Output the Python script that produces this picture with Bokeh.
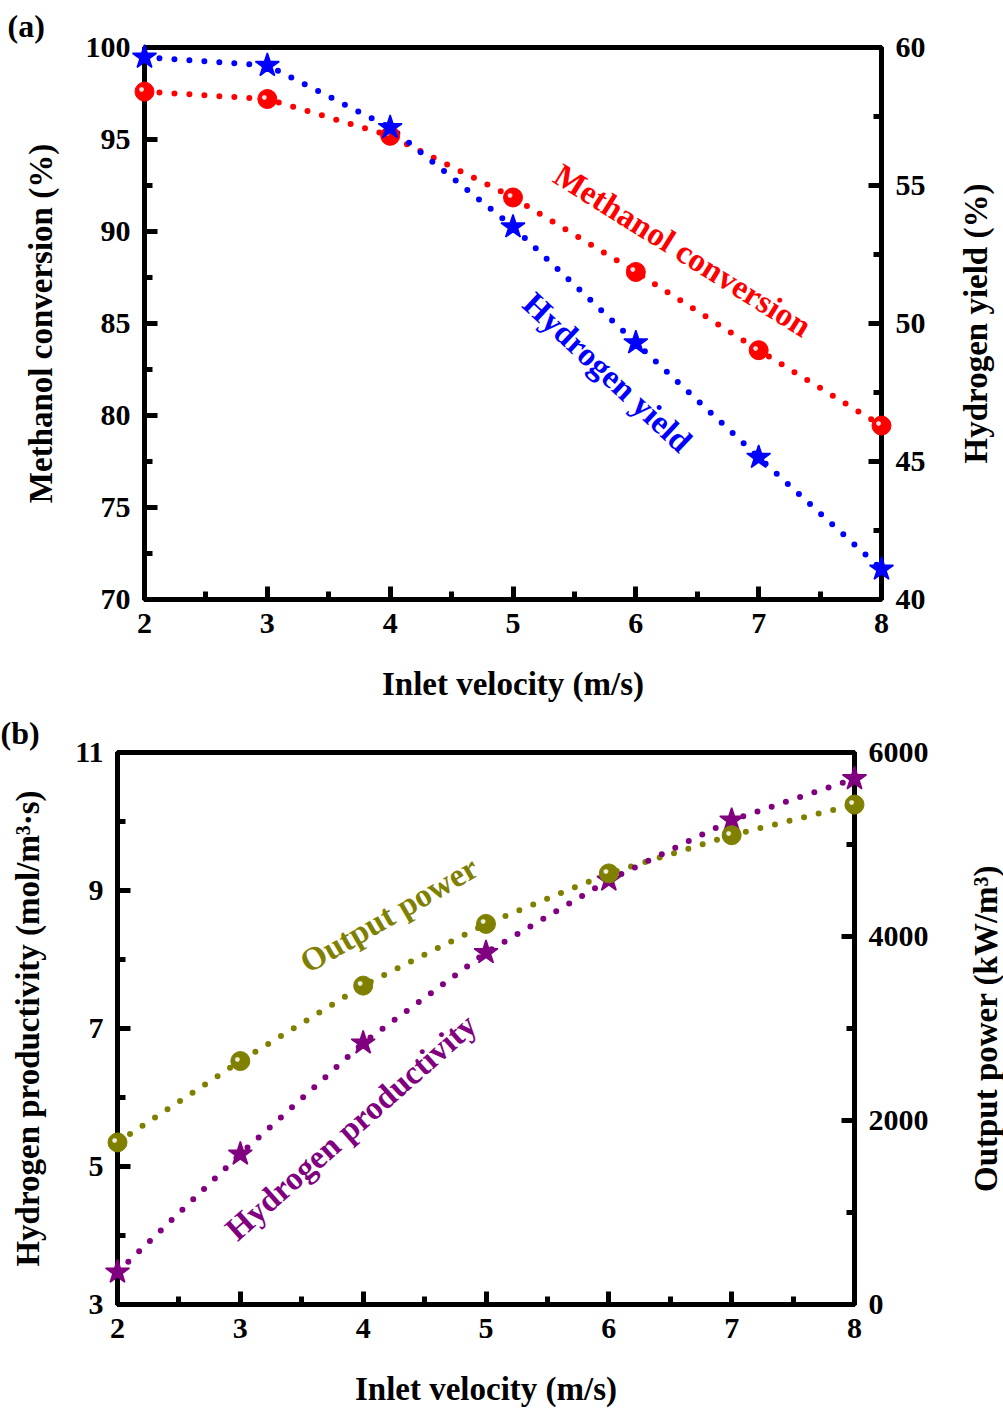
import math
from bokeh.plotting import figure
from bokeh.models import Range1d, LinearAxis, SingleIntervalTicker, FixedTicker
from bokeh.core.properties import value
from bokeh.embed import file_html
from bokeh.resources import INLINE

FONT = "Liberation Serif"

# ---- data ----
velocity = [2, 3, 4, 5, 6, 7, 8]
methanol_conversion = [97.6, 97.2, 95.2, 91.85, 87.8, 83.55, 79.45]
hydrogen_yield = [59.65, 59.35, 57.1, 53.5, 49.3, 45.15, 41.1]
hydrogen_productivity = [3.47, 5.18, 6.79, 8.10, 9.15, 10.02, 10.62]
output_power = [1762, 2646, 3466, 4137, 4686, 5101, 5434]

# tick values
productivity_ticks = [3, 5, 7, 9, 11]
productivity_minor_ticks = [4, 6, 8, 10]

RED = "#FF0000"
BLUE = "#0000FF"
OLIVE = "#808000"
PURPLE = "#800080"


def style_fig(p, label, offset, standoff):
    p.outline_line_color = "black"
    p.outline_line_width = 5
    p.outline_line_alpha = 1
    p.xgrid.visible = False
    p.ygrid.visible = False
    p.background_fill_color = "white"
    p.border_fill_color = "white"
    p.title.text = label
    p.title.align = "left"
    p.title.offset = offset
    p.title.standoff = standoff
    p.title.text_font = FONT
    p.title.text_font_style = "bold"
    p.title.text_font_size = "32px"
    p.title.text_color = "black"


def style_axis(ax, label_standoff):
    ax.axis_line_width = 5
    ax.axis_line_color = "black"
    ax.major_tick_in = 13
    ax.major_tick_out = 0
    ax.minor_tick_in = 8
    ax.minor_tick_out = 0
    ax.major_tick_line_width = 5
    ax.minor_tick_line_width = 5
    ax.major_tick_line_color = "black"
    ax.minor_tick_line_color = "black"
    ax.major_label_text_font = FONT
    ax.major_label_text_font_style = "bold"
    ax.major_label_text_font_size = "30px"
    ax.major_label_text_color = "black"
    ax.major_label_standoff = 14
    ax.axis_label_text_font = FONT
    ax.axis_label_text_font_style = "bold"
    ax.axis_label_text_font_size = "33px"
    ax.axis_label_text_color = "black"
    ax.axis_label_standoff = label_standoff


def right_label(p, x_end, y_range, text, offset_px, y_range_name):
    # axis title drawn beside the right axis, reading bottom-to-top
    r = p.text([x_end], [(y_range.start + y_range.end) / 2], text=[text],
               text_font=value(FONT), text_font_style="bold", text_font_size="33px",
               text_color="black", text_align="center", text_baseline="middle",
               angle=math.pi / 2, x_offset=offset_px, y_range_name=y_range_name)
    r.level = "overlay"


def sphere(p, xs, ys, color, y_range_name="default"):
    r = p.scatter(xs, ys, marker="circle", size=19, fill_color=color,
                  line_color=color, y_range_name=y_range_name)
    r.level = "overlay"
    h = p.text(xs, ys, text=["\u25CF"] * len(xs), text_font=value("DejaVu Sans"),
               text_font_size="6px", text_color="white", text_alpha=0.9,
               text_align="center", text_baseline="middle",
               x_offset=-3, y_offset=-3, y_range_name=y_range_name)
    h.level = "overlay"


def star(p, xs, ys, color, y_range_name="default"):
    r = p.scatter(xs, ys, marker="star", size=25, fill_color=color,
                  line_color=color, line_width=1.5, y_range_name=y_range_name)
    r.level = "overlay"


def dotted(p, xs, ys, color, y_range_name="default"):
    p.line(xs, ys, line_color=color, line_width=6, line_dash="0 15",
           line_cap="round", line_join="round", y_range_name=y_range_name)


def annot(p, x, y, text, color, angle_deg):
    p.text([x], [y], text=[text], text_font=value(FONT), text_font_style="bold",
           text_font_size="33px", text_color=color, text_align="center",
           text_baseline="middle", angle=math.radians(angle_deg))


# ---------------- panel (a) ----------------
x_range_a = Range1d(2, 8)
yield_range = Range1d(40, 60)
p1 = figure(width=1003, height=705, x_range=x_range_a, y_range=Range1d(70, 100),
            output_backend="svg", toolbar_location=None,
            min_border_left=144, min_border_right=122, min_border_top=47,
            min_border_bottom=106)
p1.extra_y_ranges = {"yield": yield_range}
style_fig(p1, "(a)", -137, 8)
p1.xaxis.ticker = SingleIntervalTicker(interval=1, num_minor_ticks=2)
p1.yaxis.ticker = SingleIntervalTicker(interval=5, num_minor_ticks=2)
p1.xaxis.axis_label = "Inlet velocity (m/s)"
p1.yaxis.axis_label = "Methanol conversion (%)"
style_axis(p1.xaxis[0], 30)
style_axis(p1.yaxis[0], 24)
ra = LinearAxis(y_range_name="yield", ticker=SingleIntervalTicker(interval=5, num_minor_ticks=2))
style_axis(ra, 28)
p1.add_layout(ra, "right")

dotted(p1, velocity, methanol_conversion, RED)
dotted(p1, velocity, hydrogen_yield, BLUE, "yield")
sphere(p1, velocity, methanol_conversion, RED)
star(p1, velocity, hydrogen_yield, BLUE, "yield")

annot(p1, 6.38, 88.97, "Methanol conversion", RED, -32)
annot(p1, 5.77, 82.34, "Hydrogen yield", BLUE, -43)
right_label(p1, x_range_a.end, yield_range, "Hydrogen yield (%)", 94, "yield")

# ---------------- panel (b) ----------------
x_range_b = Range1d(2, 8)
power_range = Range1d(0, 6000)
p2 = figure(width=1003, height=704, x_range=x_range_b, y_range=Range1d(3, 11),
            output_backend="svg", toolbar_location=None,
            min_border_left=117, min_border_right=149, min_border_top=47,
            min_border_bottom=103)
p2.extra_y_ranges = {"power": power_range}
style_fig(p2, "(b)", -117, 4)
p2.xaxis.ticker = SingleIntervalTicker(interval=1, num_minor_ticks=2)
p2.yaxis.ticker = FixedTicker(ticks=productivity_ticks, minor_ticks=productivity_minor_ticks)
p2.xaxis.axis_label = "Inlet velocity (m/s)"
p2.yaxis.axis_label = "Hydrogen productivity (mol/m\u00B3\u00B7s)"
style_axis(p2.xaxis[0], 30)
style_axis(p2.yaxis[0], 26)
rb = LinearAxis(y_range_name="power", ticker=SingleIntervalTicker(interval=2000, num_minor_ticks=2))
style_axis(rb, 26)
p2.add_layout(rb, "right")

dotted(p2, velocity, output_power, OLIVE, "power")
dotted(p2, velocity, hydrogen_productivity, PURPLE)
star(p2, velocity, hydrogen_productivity, PURPLE)
sphere(p2, velocity, output_power, OLIVE, "power")

annot(p2, 4.21, 8.65, "Output power", OLIVE, 30)
annot(p2, 3.90, 5.57, "Hydrogen productivity", PURPLE, 41.5)
right_label(p2, x_range_b.end, power_range, "Output power (kW/m\u00B3)", 131, "power")

open("out.html", "w").write(file_html([p1, p2], INLINE))
